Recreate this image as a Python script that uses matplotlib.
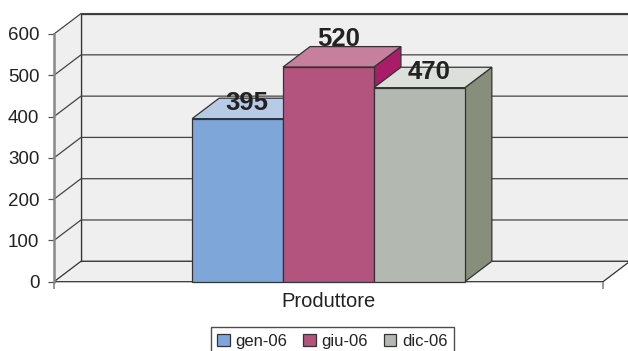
"""3D-style clustered column chart for Produttore, drawn with plain polygons."""
import matplotlib
matplotlib.use("Agg")
import matplotlib.pyplot as plt
from matplotlib.patches import Patch

plt.rcParams["font.family"] = ["Liberation Sans", "DejaVu Sans"]

periods = ["gen-06", "giu-06", "dic-06"]
values = [395, 520, 470]
y_ticks = [0, 100, 200, 300, 400, 500, 600]
category = "Produttore"

front_colors = ["#7ea6d8", "#b2547e", "#b3b8b0"]
top_colors = ["#b7cbe6", "#c67f9c", "#dcdfda"]
side_colors = ["#5f86b8", "#a81c68", "#878e7b"]

EDGE = "#333333"
WALL = "#efefef"
W, H = 628, 351
X_MAX = 3.02
# depth of the fake 3D box, in data units
DX = 0.297
DY = 49.5

fig = plt.figure(figsize=(W / 100, H / 100), dpi=100)
ax = fig.add_axes([54 / W, (H - 281.7) / H, 549 / W, 247.7 / H])
ax.set_xlim(-X_MAX, X_MAX)
ax.set_ylim(0, 600)


def poly(xs, ys, color, z=1, lw=0.9, edge=EDGE):
    ax.fill(xs, ys, facecolor=color, edgecolor=edge, lw=lw, zorder=z,
            clip_on=False, joinstyle="miter")


# back wall, side wall and floor
poly([-X_MAX + DX, X_MAX + DX, X_MAX + DX, -X_MAX + DX],
     [DY, DY, 600 + DY, 600 + DY], WALL)
poly([-X_MAX, -X_MAX + DX, -X_MAX + DX, -X_MAX],
     [0, DY, 600 + DY, 600], WALL, edge=WALL, lw=0)
ax.plot([-X_MAX + DX, -X_MAX + DX], [DY, 600 + DY], color=EDGE, lw=0.9,
        zorder=2, clip_on=False)
poly([-X_MAX, X_MAX, X_MAX + DX, -X_MAX + DX], [0, 0, DY, DY], WALL)

for tick in y_ticks[1:]:
    ax.plot([-X_MAX, -X_MAX + DX, X_MAX + DX], [tick, tick + DY, tick + DY],
            color="#444444", lw=0.9, zorder=2, clip_on=False)

# columns, left to right so each one covers the side of the previous
label_nudge = [-1, 8, -1]
for i, val in enumerate(values):
    x0, x1 = i - 1.5, i - 0.5
    z = 3 + i
    poly([x1, x1 + DX, x1 + DX, x1], [0, DY, val + DY, val], side_colors[i], z)
    poly([x0, x1, x1 + DX, x0 + DX], [val, val, val + DY, val + DY], top_colors[i], z)
    poly([x0, x1, x1, x0], [0, 0, val, val], front_colors[i], z)
    ax.annotate(str(val), (i - 1, val), xytext=(7, 12 + label_nudge[i]),
                textcoords="offset points", ha="center", va="center",
                fontsize=18.5, fontweight="bold", color="#222222", zorder=10,
                annotation_clip=False)

for name, spine in ax.spines.items():
    spine.set_visible(name == "left")
ax.spines["left"].set_color("#888888")
ax.spines["left"].set_linewidth(1.8)
ax.patch.set_visible(False)

ax.set_yticks(y_ticks)
ax.tick_params(axis="y", length=4, width=0.9, color="#555555", labelsize=13.5,
               labelcolor="#222222", pad=6.5)
ax.set_xticks([-X_MAX, X_MAX], ["", ""])
ax.tick_params(axis="x", length=5, width=1.2, color="#888888")
ax.set_xlabel(category, fontsize=14.5, color="#222222", labelpad=-1)

handles = [Patch(facecolor=c, edgecolor=EDGE, lw=0.9) for c in front_colors]
leg = fig.legend(handles, periods, loc="center", ncol=3,
                 bbox_to_anchor=(332.5 / W, (H - 341.5) / H), fontsize=12,
                 frameon=True, fancybox=False, edgecolor="#222222",
                 labelcolor="#222222", handlelength=0.75, handleheight=0.75,
                 handletextpad=0.35, columnspacing=0.95, borderpad=0.4,
                 borderaxespad=0)
leg.get_frame().set_linewidth(1.0)

fig.savefig("out.png", dpi=100)
